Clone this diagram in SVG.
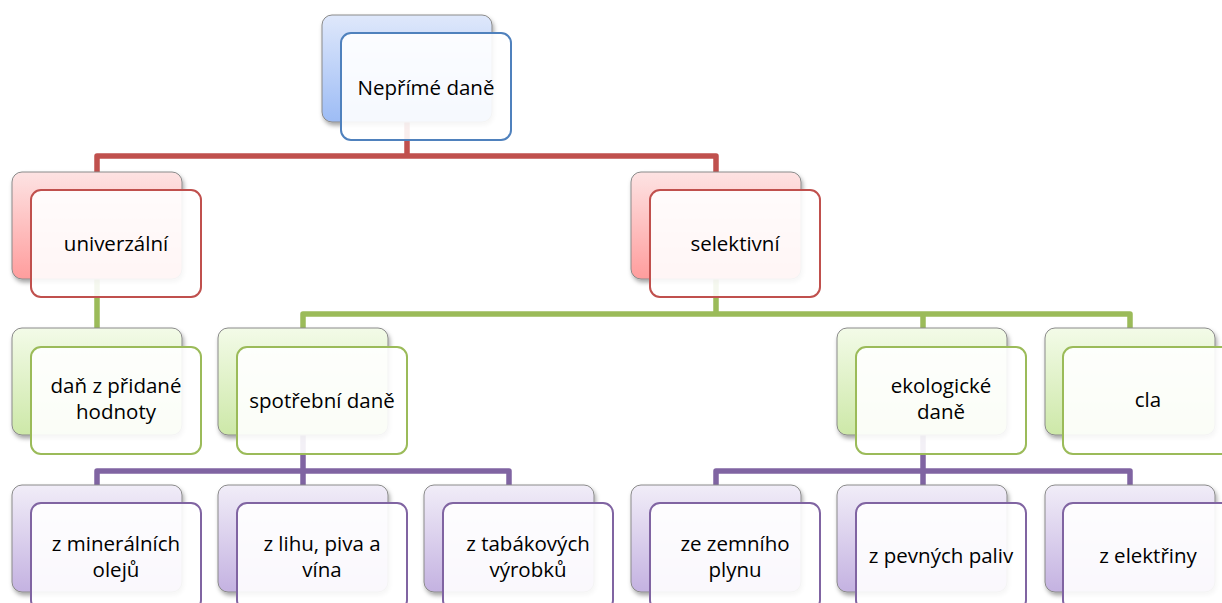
<svg xmlns="http://www.w3.org/2000/svg" width="1222" height="603" viewBox="0 0 1222 603">
<style>
.back{stroke:#8a8a8a;stroke-width:1;filter:url(#sh)}
.front{fill:#ffffff;fill-opacity:0.9;stroke-width:2}
.t{font-family:"Open Sans","Liberation Sans",Arial,sans-serif;font-size:20.5px;fill:#000;text-anchor:middle}
.con{fill:none;stroke-width:5.5;stroke-linejoin:round;stroke-linecap:butt}
.blue .back{fill:url(#gBlue)} .blue .front{stroke:#4f81bd}
.red .back{fill:url(#gRed)} .red .front{stroke:#c0504d}
.green .back{fill:url(#gGreen)} .green .front{stroke:#9bbb59}
.purple .back{fill:url(#gPurple)} .purple .front{stroke:#8064a2}
</style>
<defs>
<filter id="sh" x="-10%" y="-10%" width="125%" height="130%">
<feDropShadow dx="1.5" dy="3" stdDeviation="2" flood-color="#000" flood-opacity="0.35"/>
</filter>
<linearGradient id="gBlue" x1="0" y1="0" x2="0" y2="1"><stop offset="0" stop-color="#dfe8fb"/><stop offset="1" stop-color="#9dbcf5"/></linearGradient>
<linearGradient id="gRed" x1="0" y1="0" x2="0" y2="1"><stop offset="0" stop-color="#fde3e3"/><stop offset="1" stop-color="#ff9d9d"/></linearGradient>
<linearGradient id="gGreen" x1="0" y1="0" x2="0" y2="1"><stop offset="0" stop-color="#f3fbe8"/><stop offset="1" stop-color="#cde8a8"/></linearGradient>
<linearGradient id="gPurple" x1="0" y1="0" x2="0" y2="1"><stop offset="0" stop-color="#f1edf8"/><stop offset="1" stop-color="#c4b2e1"/></linearGradient>
</defs>
<rect width="1222" height="603" fill="#ffffff"/>
<g id="connectors">
<path class="con" stroke="#c0504d" d="M407,122 V156 H97 V172 M407,156 H716 V172"/>
<path class="con" stroke="#9bbb59" d="M97,278 V328 M716,278 V314 H303 V328 M716,314 H1130 V328 M923,314 V328"/>
<path class="con" stroke="#8064a2" d="M303,435 V471 H97 V485 M303,471 H509 V485 M303,471 V485 M923,435 V471 H716 V485 M923,471 H1130 V485 M923,471 V485"/>
</g>
<g id="n_root" class="blue">
<rect class="back" x="322" y="15" width="170" height="107" rx="10"/>
<rect class="front" x="341" y="33" width="170" height="107" rx="10"/>
<text class="t" x="426" y="95">Nepřímé daně</text>
</g>
<g id="n_univerzalni" class="red">
<rect class="back" x="12" y="172" width="170" height="107" rx="10"/>
<rect class="front" x="31" y="190" width="170" height="107" rx="10"/>
<text class="t" x="116" y="251">univerzální</text>
</g>
<g id="n_selektivni" class="red">
<rect class="back" x="631" y="172" width="170" height="107" rx="10"/>
<rect class="front" x="650" y="190" width="170" height="107" rx="10"/>
<text class="t" x="735" y="251">selektivní</text>
</g>
<g id="n_dph" class="green">
<rect class="back" x="12" y="328" width="170" height="107" rx="10"/>
<rect class="front" x="31" y="347" width="170" height="107" rx="10"/>
<text class="t" x="116" y="393">daň z přidané</text>
<text class="t" x="116" y="419">hodnoty</text>
</g>
<g id="n_spotrebni" class="green">
<rect class="back" x="218" y="328" width="170" height="107" rx="10"/>
<rect class="front" x="237" y="347" width="170" height="107" rx="10"/>
<text class="t" x="322" y="408">spotřební daně</text>
</g>
<g id="n_ekologicke" class="green">
<rect class="back" x="837" y="328" width="170" height="107" rx="10"/>
<rect class="front" x="856" y="347" width="170" height="107" rx="10"/>
<text class="t" x="941" y="393">ekologické</text>
<text class="t" x="941" y="419">daně</text>
</g>
<g id="n_cla" class="green">
<rect class="back" x="1045" y="328" width="170" height="107" rx="10"/>
<rect class="front" x="1063" y="347" width="170" height="107" rx="10"/>
<text class="t" x="1148" y="407">cla</text>
</g>
<g id="n_mineralni" class="purple">
<rect class="back" x="12" y="485" width="170" height="107" rx="10"/>
<rect class="front" x="31" y="503" width="170" height="107" rx="10"/>
<text class="t" x="116" y="551">z minerálních</text>
<text class="t" x="116" y="577">olejů</text>
</g>
<g id="n_lih" class="purple">
<rect class="back" x="218" y="485" width="170" height="107" rx="10"/>
<rect class="front" x="237" y="503" width="170" height="107" rx="10"/>
<text class="t" x="322" y="551">z lihu, piva a</text>
<text class="t" x="322" y="577">vína</text>
</g>
<g id="n_tabak" class="purple">
<rect class="back" x="424" y="485" width="170" height="107" rx="10"/>
<rect class="front" x="443" y="503" width="170" height="107" rx="10"/>
<text class="t" x="528" y="551">z tabákových</text>
<text class="t" x="528" y="577">výrobků</text>
</g>
<g id="n_plyn" class="purple">
<rect class="back" x="631" y="485" width="170" height="107" rx="10"/>
<rect class="front" x="650" y="503" width="170" height="107" rx="10"/>
<text class="t" x="735" y="551">ze zemního</text>
<text class="t" x="735" y="577">plynu</text>
</g>
<g id="n_paliva" class="purple">
<rect class="back" x="837" y="485" width="170" height="107" rx="10"/>
<rect class="front" x="856" y="503" width="170" height="107" rx="10"/>
<text class="t" x="941" y="563">z pevných paliv</text>
</g>
<g id="n_elektrina" class="purple">
<rect class="back" x="1045" y="485" width="170" height="107" rx="10"/>
<rect class="front" x="1063" y="503" width="170" height="107" rx="10"/>
<text class="t" x="1148" y="563">z elektřiny</text>
</g>
</svg>
